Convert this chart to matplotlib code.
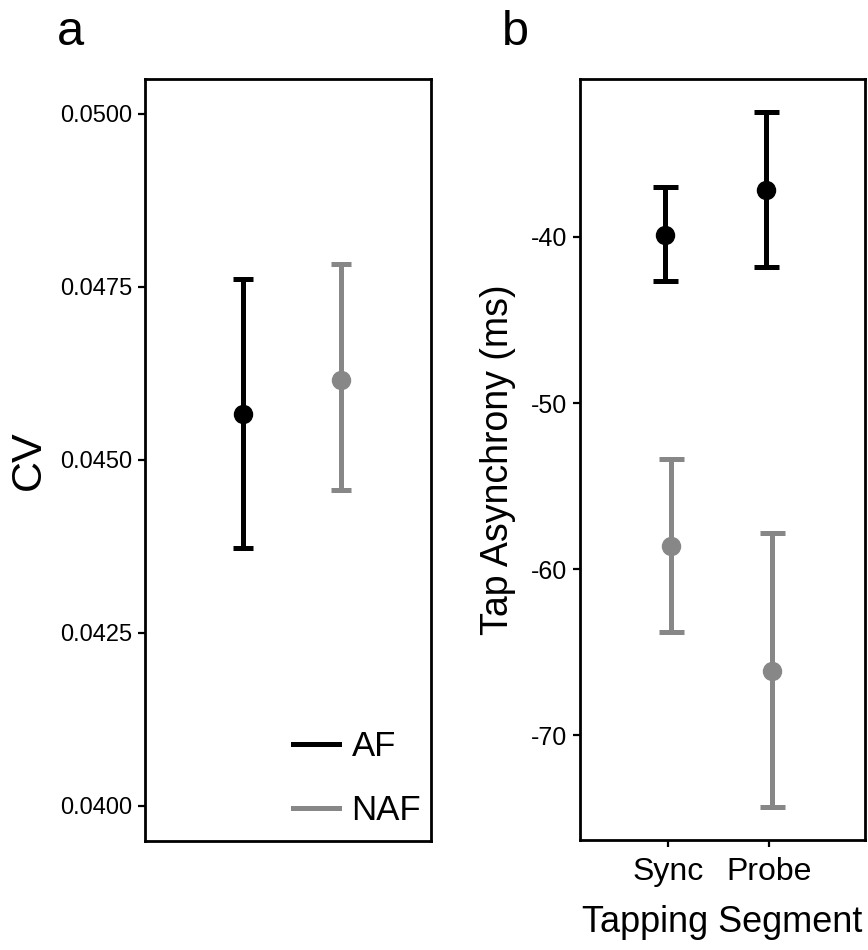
import matplotlib
matplotlib.use("Agg")
import matplotlib.pyplot as plt
from matplotlib.lines import Line2D

plt.rcParams["font.family"] = ["Liberation Sans", "DejaVu Sans"]

# panel a: coefficient of variation per group
groups = ["AF", "NAF"]
cv_mean = [0.04566, 0.04615]
cv_low = [0.04372, 0.04456]
cv_high = [0.04761, 0.04783]

# panel b: tap asynchrony per segment and group
segments = ["Sync", "Probe"]
af_mean = [-39.86, -37.19]
af_low = [-42.67, -41.84]
af_high = [-37.02, -32.50]
naf_mean = [-58.60, -66.13]
naf_low = [-63.78, -74.32]
naf_high = [-53.37, -57.85]

cv_ticks = [0.0400, 0.0425, 0.0450, 0.0475, 0.0500]
asyn_ticks = [-70, -60, -50, -40]

BLACK = "#000000"
GREY = "#878787"
LW = 3.6
MS = 13


def errbar(ax, x, mean, low, high, color, capsize):
    yerr = [[m - lo for m, lo in zip(mean, low)], [hi - m for m, hi in zip(mean, high)]]
    ax.errorbar(x, mean, yerr=yerr, fmt="o", color=color, ms=MS, elinewidth=LW,
                capsize=capsize, capthick=LW, zorder=3)


def style_axes(ax, labelsize):
    for s in ax.spines.values():
        s.set_linewidth(2.0)
    ax.tick_params(axis="y", direction="out", length=5, width=1.6,
                   labelsize=labelsize, pad=4)


fig = plt.figure(figsize=(8.68, 9.5), dpi=100)
ax_a = fig.add_axes([0.1671, 0.1147, 0.3295, 0.8021])
ax_b = fig.add_axes([0.6682, 0.1158, 0.3283, 0.8010])

# panel a
xa = [1, 2]
colors_a = [BLACK, GREY]
for i, g in enumerate(groups):
    errbar(ax_a, [xa[i]], [cv_mean[i]], [cv_low[i]], [cv_high[i]], colors_a[i], 7)
ax_a.set_xlim(0.0, 2.92)
ax_a.set_ylim(0.03949, 0.05050)
ax_a.set_yticks(cv_ticks)
ax_a.set_yticklabels([f"{t:.4f}" for t in cv_ticks])
ax_a.set_xticks([])
ax_a.set_ylabel("CV", fontsize=31, labelpad=8)
style_axes(ax_a, 17)
handles = [Line2D([0], [0], color=BLACK, lw=LW), Line2D([0], [0], color=GREY, lw=LW)]
ax_a.legend(handles, groups, loc="lower right", bbox_to_anchor=(1.014, 0.0),
            frameon=False, fontsize=25, handlelength=1.33, handletextpad=0.35,
            labelspacing=0.89, borderaxespad=0.0)

# panel b
xb = [1, 2]
dodge = 0.03
errbar(ax_b, [x - dodge for x in xb], af_mean, af_low, af_high, BLACK, 9)
errbar(ax_b, [x + dodge for x in xb], naf_mean, naf_low, naf_high, GREY, 9)
ax_b.set_xlim(0.129, 2.95)
ax_b.set_ylim(-76.3, -30.5)
ax_b.set_yticks(asyn_ticks)
ax_b.set_yticklabels([str(t) for t in asyn_ticks])
ax_b.set_xticks(xb)
ax_b.set_xticklabels(segments)
ax_b.tick_params(axis="x", direction="out", length=5, width=1.6, labelsize=23, pad=7.5)
ax_b.set_ylabel("Tap Asynchrony (ms)", fontsize=27, labelpad=11)
ax_b.set_xlabel("Tapping Segment", fontsize=26, labelpad=12.5)
style_axes(ax_b, 18)

fig.text(57 / 868, 1 - 45 / 950, "a", fontsize=35, ha="left", va="baseline")
fig.text(502 / 868, 1 - 45 / 950, "b", fontsize=35, ha="left", va="baseline")

fig.savefig("out.png", dpi=100)
